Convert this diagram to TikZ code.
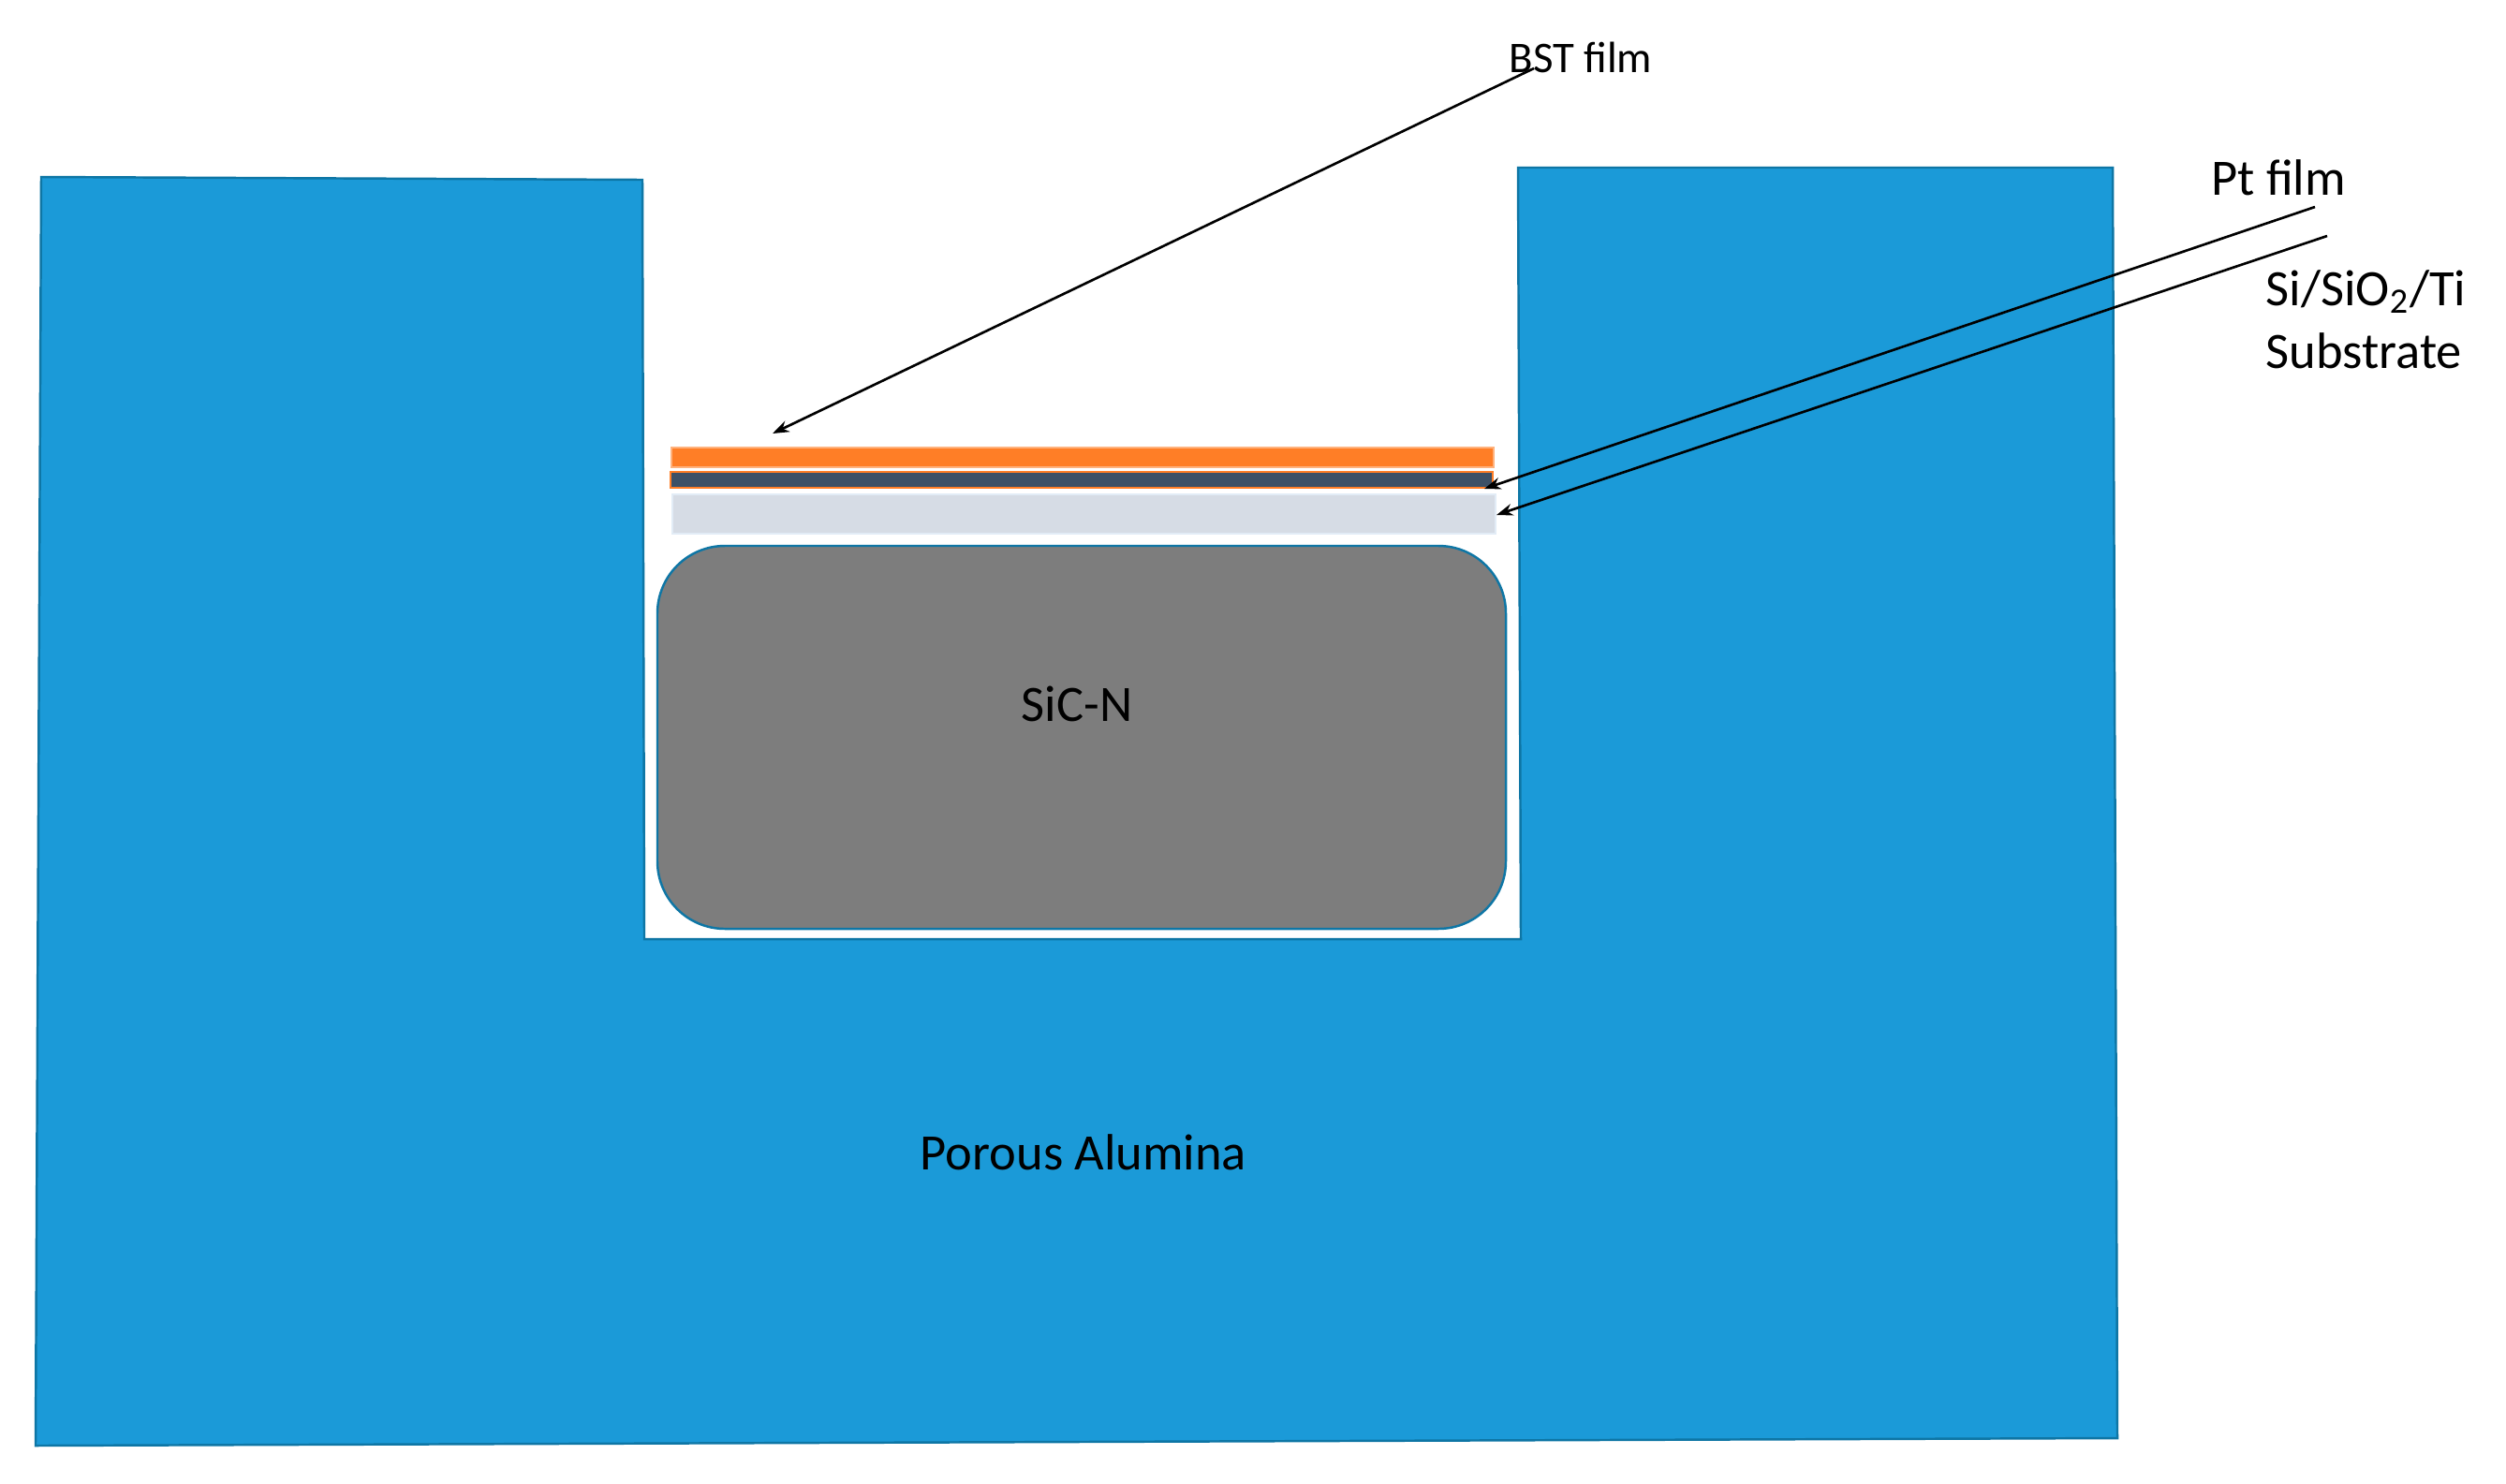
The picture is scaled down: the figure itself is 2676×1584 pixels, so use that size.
\documentclass[tikz,border=0pt]{standalone}
\usepackage{fontspec}
\setmainfont{Carlito}
\usepackage{tikz}
\usetikzlibrary{arrows.meta}
\definecolor{aluminablue}{RGB}{27,154,216}
\definecolor{edgeblue}{RGB}{14,118,165}
\definecolor{bstorange}{RGB}{255,126,38}
\definecolor{ptslate}{RGB}{60,80,102}
\definecolor{subgrey}{RGB}{214,220,229}
\definecolor{subedge}{RGB}{226,236,246}
\definecolor{sicgrey}{RGB}{125,125,125}
\tikzset{
	filmlabel/.style={inner sep=0pt, text=black, align=left, font=\fontsize{15.5}{19.5}\selectfont},
	leader/.style={line width=0.75pt, -{Stealth[length=5pt, width=3.6pt]}},
}

\begin{document}
\begin{tikzpicture}[x=0.01cm, y=-0.01cm]
		%%%%% START %%%%%
		\useasboundingbox (0, 0) rectangle (2676, 1584);
		\fill[white] (0, 0) rectangle (2676, 1584);
		
		% alumina block with its recess
		\draw[line width=0.7pt, color=edgeblue, fill=aluminablue] (44, 189) -- (686, 192) -- (688, 1003) -- (1624, 1003) -- (1621, 179) -- (2256, 179) -- (2261, 1536) -- (38, 1544) -- cycle;
		
		% film stack
		\draw[line width=0.4pt, color=bstorange!60, fill=bstorange] (717, 478) rectangle (1595, 499);
		\draw[line width=0.8pt, color=bstorange, fill=ptslate] (716, 504) rectangle (1594, 521);
		\draw[line width=0.8pt, color=subedge, fill=subgrey] (718, 528) rectangle (1597, 570);
		
		% carrier
		\draw[line width=0.7pt, color=edgeblue, fill=sicgrey, rounded corners=0.72cm] (702, 583) rectangle (1608, 992);
		
		\node[filmlabel] (sic) at (1150, 752) {SiC-N};
		\node[filmlabel] (alumina) at (1157, 1231) {Porous Alumina};
		\node[filmlabel, font=\fontsize{13.3}{16}\selectfont] (bst) at (1688, 61) {BST film};
		\node[filmlabel] (pt) at (2433, 190) {Pt film};
		\node[filmlabel, anchor=north west] (substrate) at (2419, 288) {Si/SiO\textsubscript{2}/Ti\\[-0.5pt]Substrate};
		
		% leaders
		\coordinate (bststart) at (1638, 73);
		\coordinate (bsttip) at (825, 463);
		\coordinate (ptstart) at (2472, 221);
		\coordinate (pttip) at (1585, 522);
		\coordinate (substart) at (2485, 252);
		\coordinate (subtip) at (1598, 550);
		\draw[leader] (bststart) -- (bsttip);
		\draw[leader] (ptstart) -- (pttip);
		\draw[leader] (substart) -- (subtip);
		%%%%% END %%%%%
	\end{tikzpicture}
\end{document}
